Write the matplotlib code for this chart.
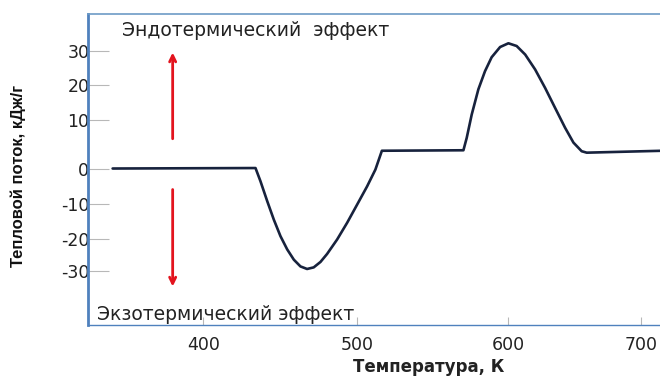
import numpy as np
import matplotlib
matplotlib.use("Agg")
import matplotlib.pyplot as plt

plt.rcParams["axes.unicode_minus"] = False

# DSC-style heat flow curve: exothermic dip, then endothermic peak
temp = [341, 433.8, 437.0, 441.4, 445.7, 450.0, 454.4, 458.7, 463.0, 467.3,
        471.6, 476.0, 480.3, 486.8, 493.3, 499.8, 506.4, 511.9, 516.2,
        570.2, 572.4, 575.7, 580.1, 584.5, 588.9, 594.5, 600.0, 606.2, 612.6,
        620.1, 627.6, 635.1, 642.6, 648.9, 655.1, 658.9, 716]
flow = [0, 0.1, -3.6, -9.3, -14.6, -19.3, -23.4, -26.6, -28.7, -29.5,
        -29.0, -27.3, -24.8, -20.3, -15.5, -10.3, -5.1, -0.3, 3.7,
        3.8, 6.4, 11.7, 18.9, 24.2, 28.3, 31.3, 32.4, 31.6, 29.1,
        24.7, 19.3, 13.6, 8.5, 5.4, 3.6, 3.3, 3.7]

x_ticks = [400, 500, 600, 700]
y_ticks = [-30, -20, -10, 0, 10, 20, 30]

# schematic axes: ticks are not evenly spaced
x_gaps = [154, 151, 133]
y_gaps = [32, 35, 35, 48, 35, 34]


def extrap(v, xs, ys):
    v = np.asarray(v, float)
    out = np.interp(v, xs, ys)
    k0 = (ys[1] - ys[0]) / (xs[1] - xs[0])
    k1 = (ys[-1] - ys[-2]) / (xs[-1] - xs[-2])
    out = np.where(v < xs[0], ys[0] + (v - xs[0]) * k0, out)
    out = np.where(v > xs[-1], ys[-1] + (v - xs[-1]) * k1, out)
    return out


def uneven_scale(ticks, gaps):
    t = np.asarray(ticks, float)
    pos = np.concatenate([[0.0], np.cumsum(gaps)])
    return (lambda v: extrap(v, t, pos)), (lambda u: extrap(u, pos, t))


fig = plt.figure(figsize=(6.6, 3.76), dpi=100)
ax = fig.add_axes([0.1333, 0.1356, 0.8667, 0.8271])

ax.set_xscale("function", functions=uneven_scale(x_ticks, x_gaps))
ax.set_yscale("function", functions=uneven_scale(y_ticks, y_gaps))

ax.plot(temp, flow, color="#17223d", lw=1.9, solid_joinstyle="round",
        solid_capstyle="round", zorder=3)

ax.set_xlim(325, 714)
ax.set_ylim(-47, 41)
ax.set_xticks(x_ticks)
ax.set_yticks(y_ticks)
ax.minorticks_off()

spine_col = "#4f81bd"
ax.spines["left"].set_color(spine_col)
ax.spines["left"].set_linewidth(2.0)
ax.spines["top"].set_color("#6d9bc6")
ax.spines["top"].set_linewidth(1.2)
ax.spines["bottom"].set_color(spine_col)
ax.spines["bottom"].set_linewidth(1.0)
ax.spines["right"].set_visible(False)

ax.tick_params(axis="y", direction="in", length=15, width=0.8, color="#b8b8b8",
               pad=-1, labelsize=12.5, labelcolor="#222222")
ax.tick_params(axis="x", direction="in", length=6, width=0.8, color="#b8b8b8",
               pad=8, labelsize=12.5, labelcolor="#222222")

ax.set_xlabel("Температура, К", fontsize=12, fontweight="bold", color="#222222",
              va="center")
ax.xaxis.set_label_coords(0.596, -0.135)
ax.set_ylabel("Тепловой поток, кДж/г", fontsize=12, fontweight="bold",
              family="Liberation Sans", color="#111111", va="center")
ax.yaxis.set_label_coords(-0.122, 0.48)

ax.text(0.0594, 0.9486, "Эндотермический  эффект", transform=ax.transAxes,
        fontsize=13.5, va="center", ha="left", color="#222222")
ax.text(0.0157, 0.035, "Экзотермический эффект", transform=ax.transAxes,
        fontsize=13.5, va="center", ha="left", color="#222222")

arrow = dict(arrowstyle="->,head_length=0.45,head_width=0.22", color="#e3141e",
             lw=2.0, shrinkA=0, shrinkB=0)
ax.annotate("", xy=(380, 29.7), xytext=(380, 6.2), arrowprops=arrow)
ax.annotate("", xy=(380, -35), xytext=(380, -6), arrowprops=arrow)

fig.savefig("out.png", dpi=100)
